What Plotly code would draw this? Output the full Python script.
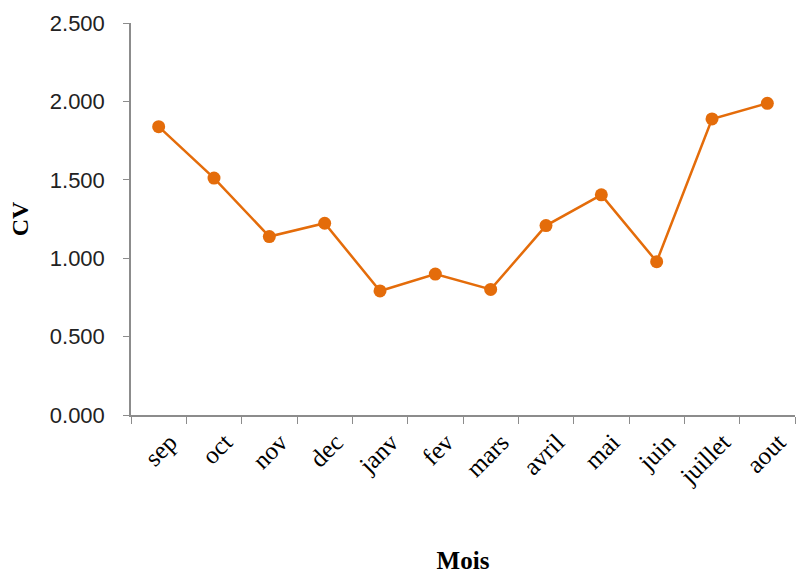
import plotly.graph_objects as go

# Monthly coefficient of variation
mois = ["sep", "oct", "nov", "dec", "janv", "fev", "mars", "avril", "mai", "juin", "juillet", "aout"]
cv = [1.839, 1.511, 1.138, 1.223, 0.791, 0.899, 0.801, 1.208, 1.404, 0.978, 1.888, 1.988]
y_ticks = [0, 0.5, 1.0, 1.5, 2.0, 2.5]

orange = "#E46C0A"
axis_grey = "#8C8C8C"

fig = go.Figure(
    go.Scatter(
        x=mois,
        y=cv,
        mode="lines+markers",
        line=dict(color=orange, width=2.5),
        marker=dict(color=orange, size=13),
        showlegend=False,
    )
)

fig.update_layout(
    width=798,
    height=574,
    margin=dict(l=131, r=3, t=23, b=159),
    paper_bgcolor="white",
    plot_bgcolor="white",
)

fig.update_xaxes(
    type="category",
    range=[-0.5, len(mois) - 0.5],
    automargin=False,
    tickson="boundaries",
    ticks="outside",
    ticklen=7,
    tickcolor=axis_grey,
    showline=True,
    linecolor=axis_grey,
    linewidth=1.5,
    showgrid=False,
    tickangle=-45,
    ticklabelshift=11,
    ticklabelstandoff=1,
    tickfont=dict(family="Liberation Serif", size=25, color="black"),
    title=dict(text="<b>Mois</b>", font=dict(family="Liberation Serif", size=25, color="black"), standoff=71),
)

fig.update_yaxes(
    range=[0, 2.5],
    automargin=False,
    tickvals=y_ticks,
    tickformat=".3f",
    ticks="outside",
    ticklen=6,
    tickcolor=axis_grey,
    showline=True,
    linecolor=axis_grey,
    linewidth=1.5,
    showgrid=False,
    zeroline=False,
    ticklabelstandoff=14,
    tickfont=dict(family="Liberation Sans", size=22, color="#222222"),
    title=dict(text="<b>CV</b>", font=dict(family="Liberation Serif", size=24, color="black"), standoff=14),
)

fig.write_html("out.html")
